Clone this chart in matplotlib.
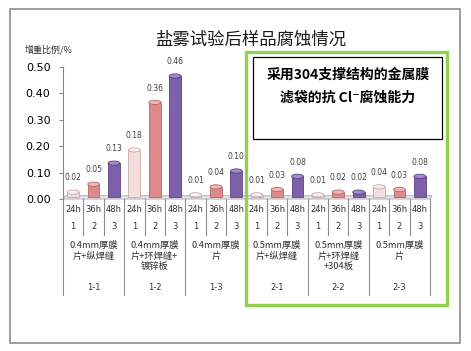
import numpy as np
import matplotlib
matplotlib.use("Agg")
import matplotlib.pyplot as plt
from matplotlib.patches import Ellipse, Rectangle

plt.rcParams['font.family'] = ['Noto Sans CJK SC', 'DejaVu Sans']

# data
groups = ["1-1", "1-2", "1-3", "2-1", "2-2", "2-3"]
group_names = ["0.4mm厚膜\n片+纵焊缝", "0.4mm厚膜\n片+环焊缝+\n镀锌板", "0.4mm厚膜\n片",
               "0.5mm厚膜\n片+纵焊缝", "0.5mm厚膜\n片+环焊缝\n+304板", "0.5mm厚膜\n片"]
hours = ["24h", "36h", "48h"]
idx_labels = ["1", "2", "3"]
v24 = [0.02, 0.18, 0.01, 0.01, 0.01, 0.04]
v36 = [0.05, 0.36, 0.04, 0.03, 0.02, 0.03]
v48 = [0.13, 0.46, 0.10, 0.08, 0.02, 0.08]

face = ["#F4DEDD", "#DD8A89", "#7D5FAA"]
edge = ["#C9A9A8", "#B86866", "#5C4286"]
top = ["#FBEFEE", "#EFB7B5", "#A58BCB"]

W, H = 471, 351
fig = plt.figure(figsize=(W / 100, H / 100), dpi=100)

# outer frame
fig.patches.append(Rectangle((10 / W, 1 - 343 / H), 450 / W, 334 / H, transform=fig.transFigure,
                             fill=False, edgecolor="#8C8C8C", lw=1.2))

ax = fig.add_axes([63 / W, 1 - 199 / H, 367 / W, 132 / H])
ax.set_xlim(-0.5, 17.5)
ax.set_ylim(0, 0.5)
ax.set_yticks(np.arange(0, 0.51, 0.1))
ax.set_yticklabels([f"{t:.2f}" for t in np.arange(0, 0.51, 0.1)], fontsize=8, family="DejaVu Sans")
ax.tick_params(axis="y", length=3, color="#888888", pad=6)
ax.set_xticks([])
for s in ["top", "right", "bottom"]:
    ax.spines[s].set_visible(False)
ax.spines["left"].set_color("#888888")

# floor
ax.fill([-0.5, 17.5, 17.6, -0.4], [0, 0, 0.012, 0.012], color="#E8E8EC", ec="#A0A0A8", lw=0.6,
        clip_on=False, zorder=1)

bw = 0.58
eh = 0.016
for g in range(6):
    for k, vals in enumerate([v24, v36, v48]):
        x = g * 3 + k
        v = vals[g]
        ax.bar(x, v, width=bw, bottom=0.006, color=face[k], edgecolor=edge[k], lw=0.6, zorder=3)
        ax.add_patch(Ellipse((x, v + 0.006), bw, eh, facecolor=top[k], edgecolor=edge[k], lw=0.6, zorder=4))
        ax.annotate(f"{v:.2f}", (x, v + 0.006), xytext=(0, 7), textcoords="offset points",
                    ha="center", va="bottom", fontsize=5.5, color="#404040", family="DejaVu Sans")

# category table under the axis
tr = ax.get_xaxis_transform()
ppx = 132.0
for i in range(19):
    xb = i - 0.5
    y_end = -96 / ppx if i % 3 == 0 else -36 / ppx
    ax.plot([xb, xb], [0, y_end], transform=tr, color="#8C8C8C", lw=0.8, clip_on=False)
for g in range(6):
    for k in range(3):
        x = g * 3 + k
        ax.text(x, -11 / ppx, hours[k], transform=tr, ha="center", va="center", fontsize=6,
                color="#303030", family="DejaVu Sans")
        ax.text(x, -28 / ppx, idx_labels[k], transform=tr, ha="center", va="center", fontsize=6,
                color="#303030", family="DejaVu Sans")
    ax.text(g * 3 + 1, -42 / ppx, group_names[g], transform=tr, ha="center", va="top", fontsize=6.7,
            color="#303030", linespacing=1.2)
    ax.text(g * 3 + 1, -89 / ppx, groups[g], transform=tr, ha="center", va="center", fontsize=6,
            color="#303030", family="DejaVu Sans")

# titles
fig.text(251 / W, 1 - 40 / H, "盐雾试验后样品腐蚀情况", ha="center", va="center", fontsize=12.5,
         color="#1A1A1A")
fig.text(25 / W, 1 - 50 / H, "增重比例/%", ha="left", va="center", fontsize=6.5, color="#303030")

# green highlight box and note
fig.patches.append(Rectangle((246 / W, 1 - 305 / H), 201 / W, 253 / H, transform=fig.transFigure,
                             fill=False, edgecolor="#92D050", lw=2.4, zorder=5))
fig.patches.append(Rectangle((253 / W, 1 - 139 / H), 189 / W, 82 / H, transform=fig.transFigure,
                             facecolor="white", edgecolor="black", lw=0.9, zorder=6))
fig.text(348 / W, 1 - 75 / H, "采用304支撑结构的金属膜", ha="center", va="center", fontsize=10,
         fontweight="bold", zorder=7)
fig.text(348 / W, 1 - 98 / H, "滤袋的抗 Cl⁻腐蚀能力", ha="center", va="center", fontsize=10,
         fontweight="bold", zorder=7)

fig.savefig("out.png", dpi=100)
